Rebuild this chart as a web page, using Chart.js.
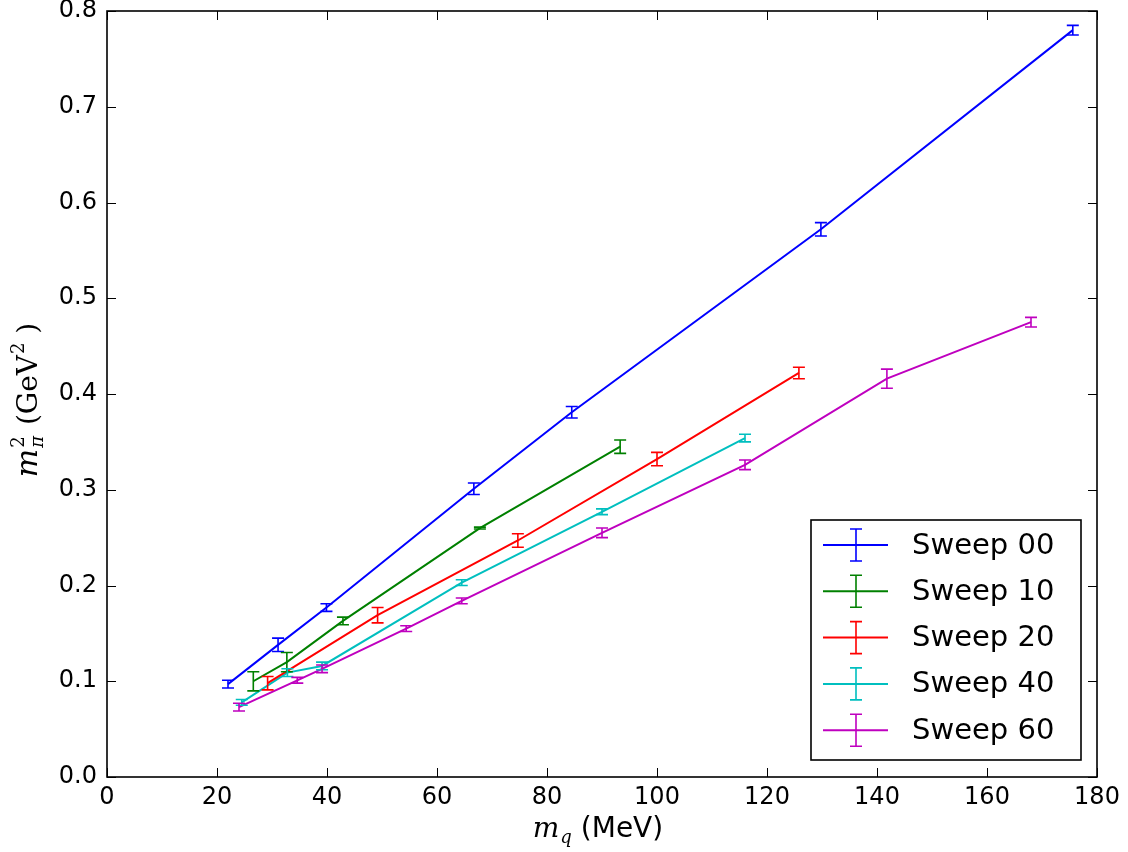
<!DOCTYPE html>
<html>
<head>
<meta charset="utf-8">
<script src="https://cdn.jsdelivr.net/npm/chart.js@4.4.1/dist/chart.umd.min.js"></script>
<style>
  html, body { margin: 0; padding: 0; background: #ffffff; }
  #wrap { width: 1128px; height: 852px; }
</style>
</head>
<body>
<div id="wrap"><canvas id="c" width="1128" height="852"></canvas></div>
<script>
// ---- data ----
const seriesLabels = ["Sweep 00", "Sweep 10", "Sweep 20", "Sweep 40", "Sweep 60"];

const sweep00_x   = [22.0, 31.1, 39.9, 66.7, 84.5, 129.8, 175.6];
const sweep00_y   = [0.097, 0.138, 0.177, 0.301, 0.381, 0.572, 0.780];
const sweep00_err = [0.004, 0.007, 0.004, 0.006, 0.006, 0.007, 0.005];

const sweep10_x   = [26.6, 32.7, 42.9, 67.8, 93.3];
const sweep10_y   = [0.100, 0.120, 0.163, 0.260, 0.345];
const sweep10_err = [0.010, 0.010, 0.004, 0.001, 0.007];

const sweep20_x   = [29.2, 49.2, 74.7, 100.0, 125.8];
const sweep20_y   = [0.098, 0.169, 0.247, 0.332, 0.422];
const sweep20_err = [0.007, 0.008, 0.007, 0.007, 0.006];

const sweep40_x   = [24.5, 32.8, 39.1, 64.5, 90.0, 116.0];
const sweep40_y   = [0.078, 0.109, 0.116, 0.203, 0.277, 0.354];
const sweep40_err = [0.003, 0.004, 0.004, 0.003, 0.003, 0.004];

const sweep60_x   = [24.0, 34.6, 39.1, 54.4, 64.5, 90.0, 116.0, 141.8, 168.0];
const sweep60_y   = [0.073, 0.101, 0.113, 0.155, 0.184, 0.255, 0.326, 0.416, 0.475];
const sweep60_err = [0.004, 0.003, 0.004, 0.003, 0.003, 0.005, 0.005, 0.010, 0.005];

const xTicks = [0, 20, 40, 60, 80, 100, 120, 140, 160, 180];
const yTicks = [0.0, 0.1, 0.2, 0.3, 0.4, 0.5, 0.6, 0.7, 0.8];

const colors = ["#0000ff", "#008000", "#ff0000", "#00bfbf", "#bf00bf"];

function pts(xs, ys, es) {
  return xs.map((x, i) => ({ x: x, y: ys[i], e: es[i] }));
}
const allSeries = [
  pts(sweep00_x, sweep00_y, sweep00_err),
  pts(sweep10_x, sweep10_y, sweep10_err),
  pts(sweep20_x, sweep20_y, sweep20_err),
  pts(sweep40_x, sweep40_y, sweep40_err),
  pts(sweep60_x, sweep60_y, sweep60_err)
];

const datasets = allSeries.map((d, i) => ({
  label: seriesLabels[i],
  data: d,
  showLine: true,
  borderColor: colors[i],
  backgroundColor: colors[i],
  borderWidth: 2,
  pointRadius: 0,
  pointHoverRadius: 0,
  tension: 0,
  fill: false
}));

// error bars drawn from the data through the scales
const errorBars = {
  id: 'errorBars',
  afterDatasetsDraw(chart) {
    const ctx = chart.ctx;
    const xs = chart.scales.x, ys = chart.scales.y;
    ctx.save();
    chart.data.datasets.forEach((ds) => {
      ctx.strokeStyle = ds.borderColor;
      ctx.lineWidth = 1.6;
      ds.data.forEach(p => {
        const px = xs.getPixelForValue(p.x);
        const y1 = ys.getPixelForValue(p.y - p.e);
        const y2 = ys.getPixelForValue(p.y + p.e);
        ctx.beginPath();
        ctx.moveTo(px, y1); ctx.lineTo(px, y2);
        ctx.moveTo(px - 6, y1); ctx.lineTo(px + 6, y1);
        ctx.moveTo(px - 6, y2); ctx.lineTo(px + 6, y2);
        ctx.stroke();
      });
    });
    ctx.restore();
  }
};

// frame + inward ticks on all four sides
const frame = {
  id: 'frame',
  afterDraw(chart) {
    const ctx = chart.ctx, a = chart.chartArea;
    const xs = chart.scales.x, ys = chart.scales.y;
    ctx.save();
    ctx.strokeStyle = '#000';
    ctx.lineWidth = 1;
    const L = 9;
    ctx.beginPath();
    xTicks.forEach(v => {
      const px = Math.round(xs.getPixelForValue(v)) + 0.5;
      ctx.moveTo(px, a.bottom); ctx.lineTo(px, a.bottom - L);
      ctx.moveTo(px, a.top); ctx.lineTo(px, a.top + L);
    });
    yTicks.forEach(v => {
      const py = Math.round(ys.getPixelForValue(v)) + 0.5;
      ctx.moveTo(a.left, py); ctx.lineTo(a.left + L, py);
      ctx.moveTo(a.right, py); ctx.lineTo(a.right - L, py);
    });
    ctx.stroke();
    ctx.lineWidth = 1.6;
    ctx.strokeRect(a.left, a.top, a.right - a.left, a.bottom - a.top);
    ctx.restore();
  }
};

// legend inside the plot, lower right
const legendBox = {
  id: 'legendBox',
  afterDraw(chart) {
    const ctx = chart.ctx;
    const bx = 811, by = 520, bw = 270, bh = 240;
    ctx.save();
    ctx.fillStyle = '#fff';
    ctx.fillRect(bx, by, bw, bh);
    ctx.strokeStyle = '#000';
    ctx.lineWidth = 1.6;
    ctx.strokeRect(bx, by, bw, bh);
    ctx.font = '29px "DejaVu Sans"';
    ctx.textBaseline = 'middle';
    ctx.textAlign = 'left';
    chart.data.datasets.forEach((ds, i) => {
      const cy = 545 + i * 46.3;
      ctx.strokeStyle = ds.borderColor;
      ctx.lineWidth = 2;
      ctx.beginPath();
      ctx.moveTo(823, cy); ctx.lineTo(888, cy);
      ctx.stroke();
      ctx.lineWidth = 1.6;
      ctx.beginPath();
      ctx.moveTo(856, cy - 16); ctx.lineTo(856, cy + 16);
      ctx.moveTo(850, cy - 16); ctx.lineTo(862, cy - 16);
      ctx.moveTo(850, cy + 16); ctx.lineTo(862, cy + 16);
      ctx.stroke();
      ctx.fillStyle = '#000';
      ctx.fillText(ds.label, 912, cy + 1);
    });
    ctx.restore();
  }
};

// axis titles with sub/superscripts
function drawPieces(ctx, pieces, cx, baseY) {
  let total = 0;
  pieces.forEach(p => { ctx.font = p.font; p.w = ctx.measureText(p.t).width; total += p.w + (p.dx || 0); });
  let x = cx - total / 2;
  pieces.forEach(p => {
    ctx.font = p.font;
    x += (p.dx || 0);
    ctx.fillText(p.t, x, baseY + (p.dy || 0));
    x += p.w;
  });
}
const axisTitles = {
  id: 'axisTitles',
  afterDraw(chart) {
    const ctx = chart.ctx;
    ctx.save();
    ctx.fillStyle = '#000';
    ctx.textBaseline = 'alphabetic';
    ctx.textAlign = 'left';
    // x title: m_q (MeV)
    drawPieces(ctx, [
      { t: 'm', font: 'italic 28px "DejaVu Serif"' },
      { t: 'q', font: 'italic 18px "DejaVu Serif"', dy: 6, dx: 1 },
      { t: ' (MeV)', font: '28px "DejaVu Sans"' }
    ], 598, 837);
    // y title: m_pi^2 (GeV^2 )
    ctx.translate(37, 400);
    ctx.rotate(-Math.PI / 2);
    const supW = (() => { ctx.font = 'italic 18px "DejaVu Serif"'; return ctx.measureText('2').width; })();
    drawPieces(ctx, [
      { t: 'm', font: 'italic 30px "DejaVu Serif"' },
      { t: '2', font: '18px "DejaVu Serif"', dy: -13, dx: 1 },
      { t: 'π', font: 'italic 18px "DejaVu Serif"', dy: 6, dx: -supW },
      { t: ' (GeV', font: '28px "DejaVu Serif"', dx: 2 },
      { t: '2', font: '18px "DejaVu Serif"', dy: -13, dx: 1 },
      { t: ' )', font: '28px "DejaVu Serif"' }
    ], 0, 0);
    ctx.restore();
  }
};

new Chart(document.getElementById('c'), {
  type: 'scatter',
  data: { datasets: datasets },
  options: {
    responsive: false,
    animation: false,
    devicePixelRatio: 1,
    layout: { padding: { left: 0, top: 11, right: 31, bottom: 0 } },
    plugins: {
      legend: { display: false },
      tooltip: { enabled: false }
    },
    scales: {
      x: {
        type: 'linear',
        min: 0, max: 180,
        afterFit(s) { s.height = 75; s.paddingLeft = 0; s.paddingRight = 0; },
        afterBuildTicks(s) { s.ticks = xTicks.map(v => ({ value: v })); },
        grid: { display: false, drawTicks: false },
        border: { display: false },
        ticks: {
          padding: 6,
          color: '#000',
          font: { family: 'DejaVu Sans', size: 24 },
          maxRotation: 0,
          callback: v => String(v)
        }
      },
      y: {
        type: 'linear',
        min: 0, max: 0.8,
        afterFit(s) { s.width = 107; s.paddingTop = 0; s.paddingBottom = 0; },
        afterBuildTicks(s) { s.ticks = yTicks.map(v => ({ value: v })); },
        grid: { display: false, drawTicks: false },
        border: { display: false },
        ticks: {
          padding: 10,
          color: '#000',
          font: { family: 'DejaVu Sans', size: 24 },
          callback: v => Number(v).toFixed(1)
        }
      }
    }
  },
  plugins: [errorBars, frame, legendBox, axisTitles]
});
</script>
</body>
</html>
